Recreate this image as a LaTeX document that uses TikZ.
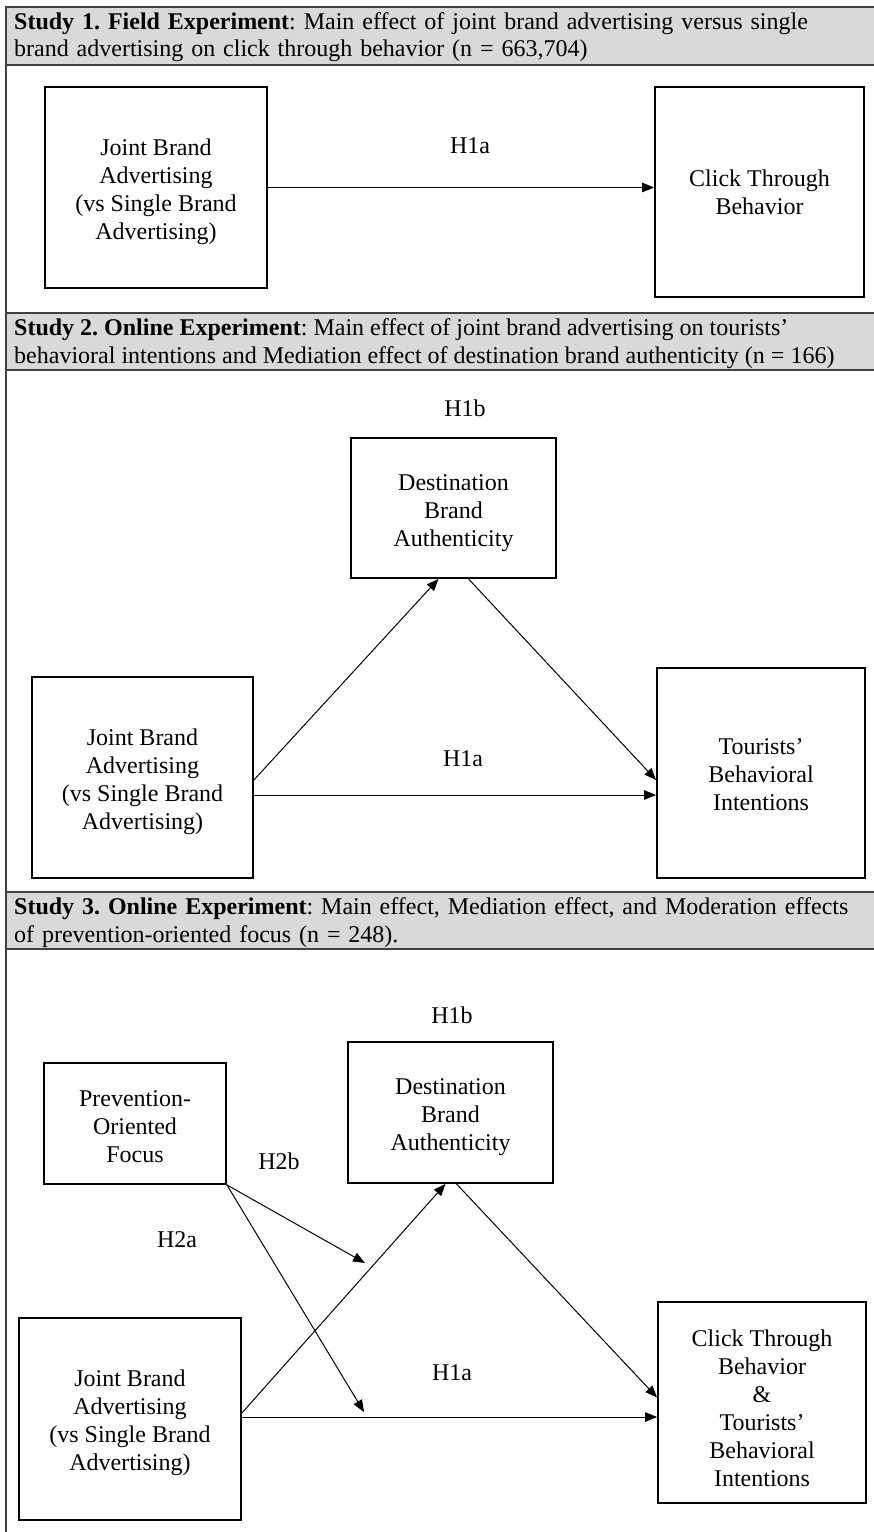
\documentclass[tikz,border=0pt]{standalone}
\usepackage{fontspec}
\setmainfont{Liberation Serif}
\usetikzlibrary{arrows.meta,calc}
\definecolor{bandgray}{HTML}{D9D9D9}
\definecolor{framegray}{HTML}{404040}
\newcommand\boxfont{\fontsize{24}{28}\selectfont}
\newcommand\widefont{\fontsize{24}{28}\selectfont\spaceskip=7.9pt\relax}
\newcommand\tb[1]{\rule{0pt}{#1pt}}
\frenchspacing
\begin{document}
\begin{tikzpicture}[x=1pt,y=-1pt,
  box/.style={draw=black,line width=1.8pt,inner sep=0pt,align=center,font=\boxfont,
    execute at end node={\rule[-6pt]{0pt}{6pt}}},
  lbl/.style={inner sep=0pt,font=\boxfont},
  arr/.style={line width=1pt,-{Triangle[length=12pt,width=9.5pt]}},
  hdr/.style={inner sep=0pt,anchor=base west,font=\boxfont},
  wide/.style={font=\widefont},
  band/.style={fill=bandgray,draw=framegray,line width=1.6pt},
  frameline/.style={draw=framegray,line width=1.6pt}]
\useasboundingbox (0,0) rectangle (874,1532);
\clip (0,0) rectangle (874,1532);
\fill[white] (0,0) rectangle (874,1532);

% frame and header bands
\draw[band] (6,7) rectangle (900,65);
\draw[band] (6,313) rectangle (900,370);
\draw[band] (6,892) rectangle (900,949);
\draw[frameline] (6,7) -- (6,1545);

% header texts
\node[hdr,wide] (s1a) at (14,29) {\textbf{Study 1. Field Experiment}: Main effect of joint brand advertising versus single};
\node[hdr,wide] (s1b) at (14,56) {brand advertising on click through behavior (n = 663,704)};
\node[hdr] (s2a) at (14,335) {\textbf{Study 2. Online Experiment}: Main effect of joint brand advertising on tourists’};
\node[hdr] (s2b) at (14,363) {behavioral intentions and Mediation effect of destination brand authenticity (n = 166)};
\node[hdr,wide] (s3a) at (14,914) {\textbf{Study 3. Online Experiment}: Main effect, Mediation effect, and Moderation effects};
\node[hdr,wide] (s3b) at (14,942) {of prevention-oriented focus (n = 248).};

% Study 1
\node[box,minimum width=222,minimum height=201] (j1) at (156,187.5) {\tb{25.5}Joint Brand\\Advertising\\(vs Single Brand\\Advertising)};
\node[box,minimum width=209,minimum height=210] (c1) at (759.5,192) {\tb{22.5}Click Through\\Behavior};
\node[lbl] (l1a) at (470,146) {H1a};
\draw[arr] (j1.east) -- (j1.east -| c1.west);

% Study 2
\node[box,minimum width=205,minimum height=140] (d2) at (453.5,508) {\tb{26.5}Destination\\Brand\\Authenticity};
\node[box,minimum width=221,minimum height=201] (j2) at (142.5,777.5) {\tb{26.5}Joint Brand\\Advertising\\(vs Single Brand\\Advertising)};
\node[box,minimum width=208,minimum height=210] (t2) at (761,773) {\tb{25}Tourists’\\Behavioral\\Intentions};
\node[lbl] (l2b) at (465,408) {H1b};
\node[lbl] (l2a) at (463,759) {H1a};
\coordinate (y2) at (0,795);
\draw[arr] ($(j2.east)+(0,2.5)$) -- ($(d2.south)+(-15,0)$);
\draw[arr] ($(d2.south)+(15,0)$) -- ($(t2.west)+(0,7)$);
\draw[arr] (j2.east |- y2) -- (t2.west |- y2);

% Study 3
\node[box,minimum width=182,minimum height=121] (p3) at (135,1123.5) {\tb{28.5}Prevention-\\Oriented\\Focus};
\node[box,minimum width=205,minimum height=141] (d3) at (450.5,1112.5) {\tb{25}Destination\\Brand\\Authenticity};
\node[box,minimum width=222,minimum height=202] (j3) at (130,1419) {\tb{25}Joint Brand\\Advertising\\(vs Single Brand\\Advertising)};
\node[box,minimum width=208,minimum height=201] (c3) at (762,1402.5) {\tb{33}Click Through\\Behavior\\\&\\Tourists’\\Behavioral\\Intentions};
\node[lbl] (l3b) at (452,1015) {H1b};
\node[lbl] (l3h2b) at (279,1161) {H2b};
\node[lbl] (l3h2a) at (177,1240) {H2a};
\node[lbl] (l3a) at (452,1373) {H1a};
\coordinate (m1) at (365,1263);
\coordinate (m2) at (364,1412);
\draw[arr] ($(j3.east)+(0,-6)$) -- ($(d3.south)+(-5,0)$);
\draw[arr] ($(d3.south)+(6,0)$) -- ($(c3.west)+(0,-5)$);
\draw[arr] ($(j3.east)+(0,-2)$) -- ($(j3.east -| c3.west)+(0,-2)$);
\draw[arr] (p3.south east) -- (m1);
\draw[arr] (p3.south east) -- (m2);
\end{tikzpicture}
\end{document}
